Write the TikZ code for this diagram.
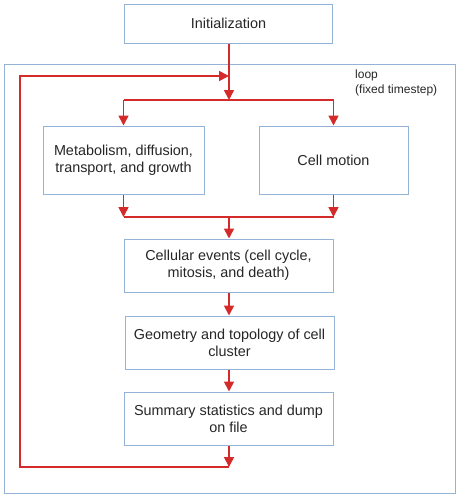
\documentclass[tikz,border=0pt]{standalone}
\usepackage{fontspec}
\setmainfont{Liberation Sans}
\usetikzlibrary{arrows.meta}
\definecolor{boxblue}{RGB}{149,179,215}
\definecolor{flowred}{RGB}{212,42,42}
\begin{document}
\begin{tikzpicture}[x=1pt,y=-1pt,
  stepbox/.style={draw=boxblue,line width=1pt,fill=white,align=center,inner sep=0pt,
    font=\fontsize{14.4}{17}\selectfont,text=black!85},
  flow/.style={draw=flowred,line width=1.7pt},
  flowarr/.style={flow,-{Triangle[length=10pt,width=10pt]}}]
\useasboundingbox (0,0) rectangle (460,498);
\node[draw=boxblue,line width=1pt,minimum width=451pt,minimum height=429pt,inner sep=0pt] (loopbox) at (229.5,278.5) {};
\node[anchor=north west,align=left,inner sep=0pt,font=\fontsize{12}{15}\selectfont,text=black!85] (looplabel) at (355,70) {loop\\(fixed timestep)};
\node[stepbox,minimum width=208pt,minimum height=39pt] (init) at (228.5,23.5) {Initialization};
\node[stepbox,minimum width=161pt,minimum height=68pt] (meta) at (123.5,160) {Metabolism, diffusion,\\transport, and growth};
\node[stepbox,minimum width=149pt,minimum height=68pt] (motion) at (333.5,160) {Cell motion};
\node[stepbox,minimum width=209pt,minimum height=53pt] (events) at (228.5,265.5) {Cellular events (cell cycle,\\mitosis, and death)};
\node[stepbox,minimum width=209pt,minimum height=53pt] (geom) at (229.5,342.5) {Geometry and topology of cell\\cluster};
\node[stepbox,minimum width=209pt,minimum height=53pt] (summ) at (228.5,418.5) {Summary statistics and dump\\on file};
\coordinate (top) at (229,76);
\coordinate (split) at (229,100);
\coordinate (splitL) at (123.5,100);
\coordinate (splitR) at (333.5,100);
\coordinate (mergeL) at (123.5,217);
\coordinate (mergeR) at (333.5,217);
\coordinate (merge) at (229,217);
\coordinate (bottom) at (229,467);
\coordinate (cornerB) at (20,467);
\coordinate (cornerT) at (20,76);
% init to split
\draw[flowarr] (init.south -| split) -- (split);
\draw[flow] (splitL) -- (splitR);
\draw[flowarr] (splitL) -- (meta.north);
\draw[flowarr] (splitR) -- (motion.north);
% merge
\draw[flowarr] (meta.south) -- (mergeL);
\draw[flowarr] (motion.south) -- (mergeR);
\draw[flow] (mergeL) -- (mergeR);
\draw[flowarr] (merge) -- (events.north -| merge);
\draw[flowarr] (events.south -| merge) -- (geom.north -| merge);
\draw[flowarr] (geom.south -| merge) -- (summ.north -| merge);
\draw[flowarr] (summ.south -| merge) -- (bottom);
% feedback
\draw[flowarr] (bottom) -- (cornerB) -- (cornerT) -- (top);
\end{tikzpicture}
\end{document}
